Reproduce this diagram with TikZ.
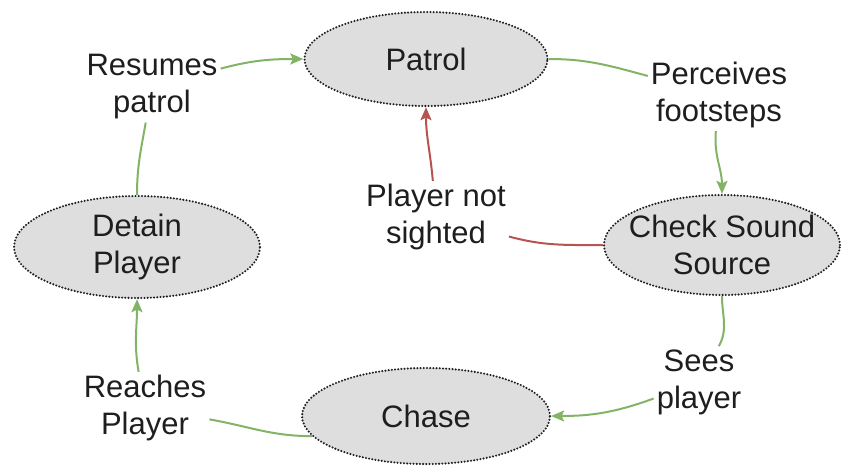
\documentclass[tikz,border=0pt]{standalone}
\usepackage{fontspec}
\setmainfont{Liberation Sans}
\usetikzlibrary{shapes.geometric,arrows.meta}

\definecolor{stategray}{RGB}{222,222,222}
\definecolor{okgreen}{RGB}{130,179,102}
\definecolor{failred}{RGB}{184,84,80}
\definecolor{inkgray}{RGB}{30,30,30}

\begin{document}
\begin{tikzpicture}[x=1pt,y=-1pt,
    state/.style={ellipse,fill=stategray,draw=inkgray,line width=2.3pt,
        dash pattern=on 0pt off 3.2pt,line cap=round,inner sep=0pt,
        align=center,text=inkgray},
    edgelabel/.style={align=center,text=inkgray,inner sep=3pt},
    okline/.style={draw=okgreen,line width=2pt,
        -{Stealth[length=13pt,width=11pt,inset=2.5pt]}},
    failline/.style={draw=failred,line width=2pt,
        -{Stealth[length=13pt,width=11pt,inset=2.5pt]}}]
\useasboundingbox (0,0) rectangle (843,467);
\fontsize{31}{37}\selectfont

% states
\node[state,minimum width=243,minimum height=94] (patrol) at (426,59) {Patrol};
\node[state,inner xsep=-11pt,minimum width=236,minimum height=100] (check) at (722,245) {Check Sound\\Source};
\node[state,minimum width=248,minimum height=96] (chase) at (426,416) {Chase};
\node[state,minimum width=246,minimum height=102] (detain) at (137,247) {Detain\\Player};

% labels on the transitions
\node[edgelabel] (perceive) at (719,95) {Perceives\\footsteps};
\node[edgelabel] (sees) at (699,382) {Sees\\player};
\node[edgelabel] (reach) at (145,408) {Reaches\\Player};
\node[edgelabel] (resume) at (152,87) {Resumes\\patrol};
\node[edgelabel] (notsighted) at (436,217) {Player not\\sighted};

% transitions
\draw[okline] (patrol.east) to[out=0,in=165] (perceive)
    to[out=-95,in=90] (check.north);
\draw[okline] (check.south) to[out=-90,in=61] (sees)
    to[out=200,in=0] (chase.east);
\draw[okline] (chase.190) to[out=180,in=-10] (reach)
    to[out=100,in=-90] (detain.south);
\draw[okline] (detain.north) to[out=90,in=-100] (resume)
    to[out=15,in=180] (patrol.west);
\draw[failline] (check.west) to[out=180,in=-15] (notsighted)
    to[out=95,in=-90] (patrol.south);
\end{tikzpicture}
\end{document}
